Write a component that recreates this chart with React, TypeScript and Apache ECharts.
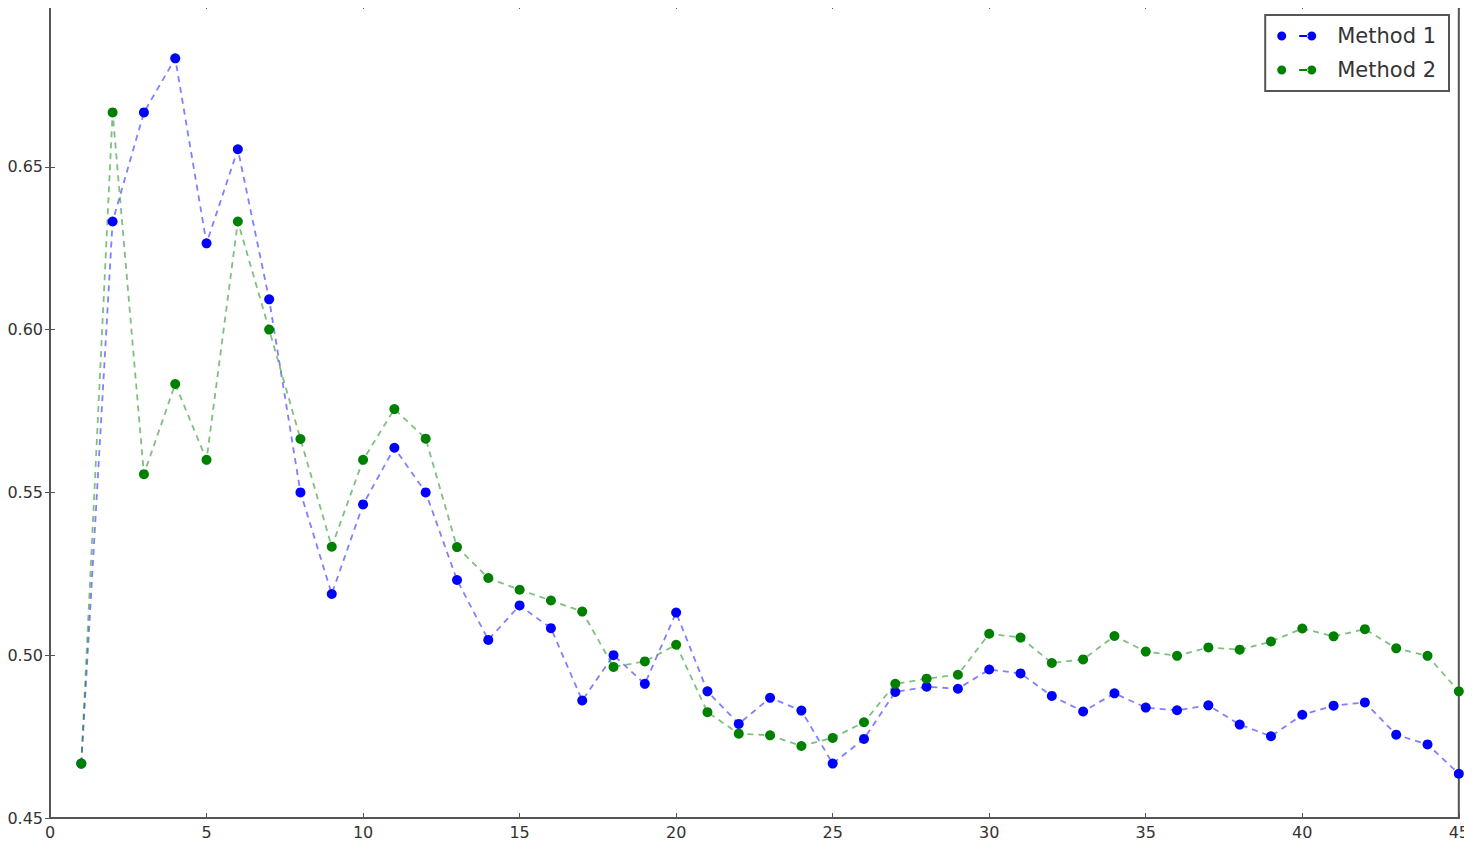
import React, { useEffect, useRef } from "react";
import * as echarts from "echarts";

const xValues: number[] = [
  1, 2, 3, 4, 5, 6, 7, 8, 9, 10, 11, 12, 13, 14, 15, 16, 17, 18, 19, 20, 21, 22, 23,
  24, 25, 26, 27, 28, 29, 30, 31, 32, 33, 34, 35, 36, 37, 38, 39, 40, 41, 42, 43, 44, 45,
];

const method1: number[] = [
  0.4667, 0.6332, 0.6667, 0.6833, 0.6265, 0.6554, 0.6093, 0.55, 0.5188, 0.5463,
  0.5637, 0.55, 0.5231, 0.5047, 0.5153, 0.5083, 0.4861, 0.5, 0.4912, 0.5131,
  0.4889, 0.4789, 0.4869, 0.483, 0.4667, 0.4743, 0.4887, 0.4903, 0.4897, 0.4956,
  0.4944, 0.4875, 0.4827, 0.4883, 0.4839, 0.4831, 0.4846, 0.4787, 0.4751, 0.4817,
  0.4845, 0.4855, 0.4756, 0.4726, 0.4636,
];

const method2: number[] = [
  0.4667, 0.6667, 0.5556, 0.5833, 0.56, 0.6332, 0.6, 0.5664, 0.5333, 0.56,
  0.5756, 0.5665, 0.5332, 0.5237, 0.5201, 0.5168, 0.5134, 0.4964, 0.4981, 0.5032,
  0.4825, 0.4759, 0.4754, 0.4721, 0.4746, 0.4794, 0.4912, 0.4928, 0.494, 0.5066,
  0.5054, 0.4976, 0.4987, 0.5059, 0.5011, 0.4998, 0.5024, 0.5017, 0.5042, 0.5082,
  0.5058, 0.508, 0.5021, 0.4998, 0.4889,
];

const seriesNames: string[] = ["Method 1", "Method 2"];
const seriesColors: string[] = ["#0000ff", "#008000"];

const LEGEND_ICON =
  "path://M0,4.5a4.5,4.5 0 1,0 9,0a4.5,4.5 0 1,0 -9,0Z M22,3.6L31,3.6L31,5.4L22,5.4Z M30,4.5a4.5,4.5 0 1,0 9,0a4.5,4.5 0 1,0 -9,0Z";

export default function App() {
  const ref = useRef<HTMLDivElement>(null);

  useEffect(() => {
    if (!ref.current) return;
    const chart = echarts.init(ref.current, undefined, { renderer: "svg" });
    const font = "'DejaVu Sans', sans-serif";
    const frameColor = "#555";
    const tickLabel = { fontFamily: font, fontSize: 16, color: "#333" };

    const makeSeries = (idx: number, values: number[]) => ({
      name: seriesNames[idx],
      type: "line",
      xAxisIndex: 0,
      yAxisIndex: 0,
      data: xValues.map((x, i) => [x, values[i]]),
      symbol: "circle",
      symbolSize: 10,
      itemStyle: { color: seriesColors[idx], opacity: 1 },
      lineStyle: {
        color: seriesColors[idx],
        width: 1.8,
        type: [6, 5],
        opacity: 0.5,
      },
      emphasis: { disabled: true },
    });

    chart.setOption({
      animation: false,
      backgroundColor: "#ffffff",
      grid: {
        left: 50,
        right: 13,
        top: 4,
        bottom: 28,
        show: true,
        borderColor: frameColor,
        borderWidth: 2,
      },
      legend: {
        orient: "vertical",
        right: 23,
        top: 15,
        data: seriesNames,
        icon: LEGEND_ICON,
        itemWidth: 39,
        itemHeight: 9,
        itemGap: 10,
        padding: [9, 13, 9, 12],
        borderColor: frameColor,
        borderWidth: 2,
        backgroundColor: "#ffffff",
        textStyle: {
          fontFamily: font,
          fontSize: 21,
          lineHeight: 24,
          color: "#333",
          padding: [0, 0, 0, 16],
        },
      },
      xAxis: [
        {
          type: "value",
          min: 0,
          max: 45,
          interval: 5,
          splitLine: { show: false },
          axisLine: { show: true, lineStyle: { color: frameColor, width: 2 } },
          axisTick: { show: true, inside: true, length: 5, lineStyle: { color: frameColor } },
          axisLabel: { ...tickLabel, margin: 6 },
        },
        {
          type: "value",
          position: "top",
          min: 0,
          max: 45,
          interval: 5,
          splitLine: { show: false },
          axisLine: { show: false },
          axisTick: { show: true, inside: true, length: 5, lineStyle: { color: frameColor } },
          axisLabel: { show: false },
        },
      ],
      yAxis: [
        {
          type: "value",
          min: 0.45,
          max: 0.7,
          interval: 0.05,
          splitLine: { show: false },
          axisLine: { show: true, lineStyle: { color: frameColor, width: 2 } },
          axisTick: { show: true, inside: true, length: 5, lineStyle: { color: frameColor } },
          axisLabel: {
            ...tickLabel,
            margin: 7,
            showMaxLabel: false,
            formatter: (v: number) => v.toFixed(2),
          },
        },
        {
          type: "value",
          position: "right",
          min: 0.45,
          max: 0.7,
          interval: 0.05,
          splitLine: { show: false },
          axisLine: { show: false },
          axisTick: { show: true, inside: true, length: 5, lineStyle: { color: frameColor } },
          axisLabel: { show: false },
        },
      ],
      series: [makeSeries(0, method1), makeSeries(1, method2)],
    });

    return () => chart.dispose();
  }, []);

  return <div ref={ref} style={{ width: 1472, height: 846, margin: -8 }} />;
}
